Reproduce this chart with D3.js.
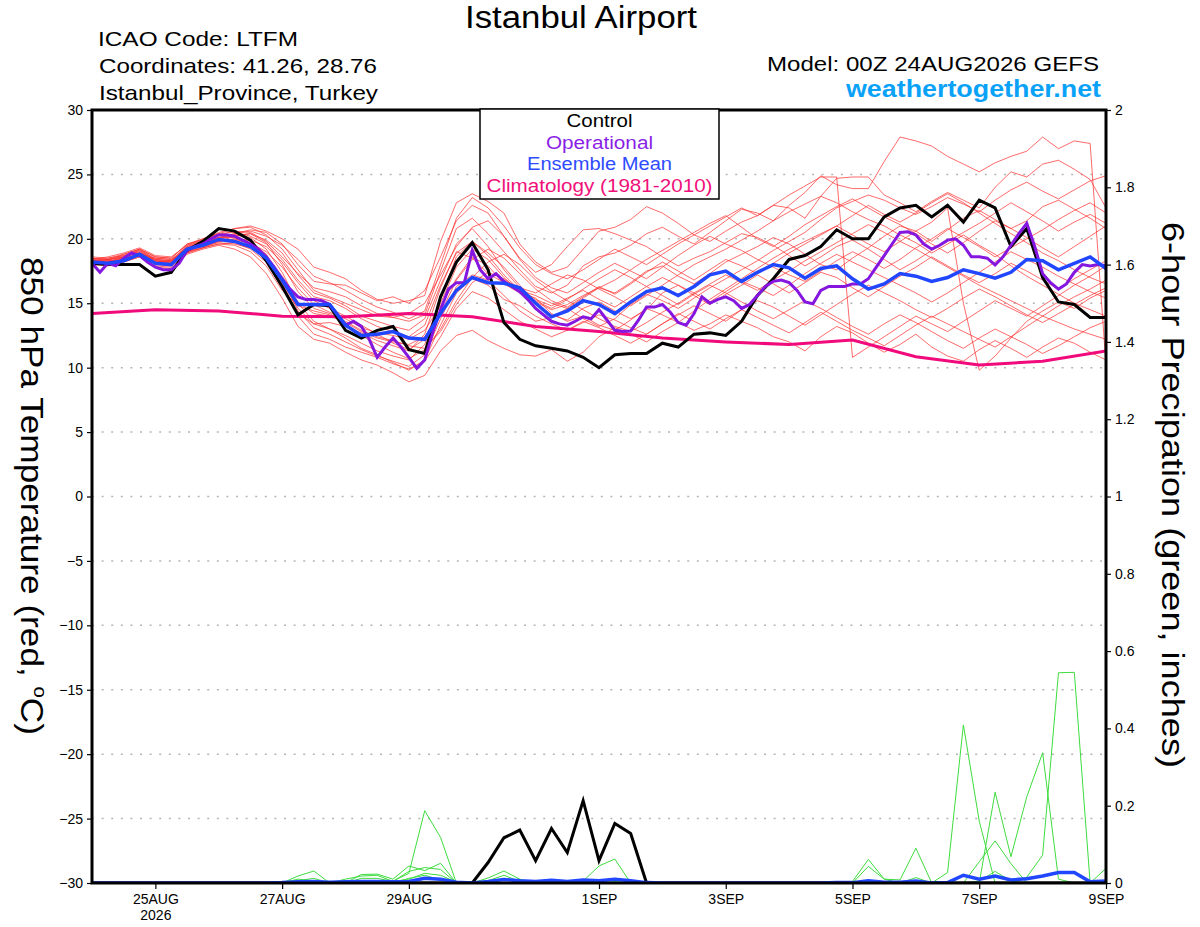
<!DOCTYPE html>
<html>
<head>
<meta charset="utf-8">
<script src="https://cdn.jsdelivr.net/npm/d3@7"></script>
<style>
  body { margin: 0; background: #fff; }
  svg { display: block; }
  text { font-family: "Liberation Sans", Arial, sans-serif; }
</style>
</head>
<body>
<div id="chart"></div>
<script>
// 6-hourly GEFS meteogram, 24AUG2026 00Z run, 384 h

// ---- data ----
const runStart = Date.UTC(2026, 7, 24, 0);
const runEnd = Date.UTC(2026, 8, 9, 0);
const stepHours = 6;      // ensemble, control, mean, precip
const opStepHours = 3;    // operational run
const climStepHours = 24; // climatology

const dayTicks = ["2026-08-25", "2026-08-27", "2026-08-29", "2026-09-01",
                  "2026-09-03", "2026-09-05", "2026-09-07", "2026-09-09"];
const monthNames = ["JAN","FEB","MAR","APR","MAY","JUN","JUL","AUG","SEP","OCT","NOV","DEC"];
const tempTicks = [-30,-25,-20,-15,-10,-5,0,5,10,15,20,25,30];
const precipTicks = [0,0.2,0.4,0.6,0.8,1,1.2,1.4,1.6,1.8,2];

// 850 hPa temperature, deg C
const control = [18.1,18.0,18.0,18.0,17.1,17.4,19.1,19.8, 20.8,20.6,19.9,18.3,16.3,14.1,14.9,14.8,
  12.9,12.3,12.9,13.2,11.4,11.1,15.5,18.2, 19.7,17.6,13.5,12.2,11.7,11.5,11.3,10.8,
  10.0,11.0,11.1,11.1,11.9,11.6,12.6,12.7, 12.5,13.6,15.6,16.9,18.4,18.7,19.4,20.7,
  20.0,20.0,21.7,22.4,22.6,21.7,22.6,21.3, 23.0,22.4,19.4,20.8,17.0,15.1,14.9,13.9, 13.9];

const ensMean = [18.2,18.1,18.3,18.8,18.1,18.0,19.2,19.5, 19.95,19.8,19.4,18.5,16.8,14.9,14.9,14.9,
  13.3,12.5,12.6,12.8,12.3,12.2,14.2,16.0, 17.0,16.6,16.55,16.2,15.0,13.95,14.4,15.2,
  14.9,14.2,15.1,15.9,16.2,15.6,16.3,17.2, 17.5,16.7,17.4,18.0,17.75,16.95,17.7,17.9,
  16.9,16.1,16.5,17.3,17.1,16.7,17.0,17.6, 17.3,16.95,17.4,18.4,18.3,17.6,18.1,18.6, 17.7];

const operational = [18.1,17.4,18.1,17.9,18.5,18.9,18.7,18.2, 17.8,17.6,17.6,18.1,19.1,19.4,19.6,20.0,
  20.3,20.3,20.2,19.9,19.6,19.2,18.6,17.8, 16.9,16.1,15.5,15.3,15.3,15.2,14.9,14.1,
  13.3,13.6,13.2,12.2,10.8,11.6,12.3,11.6, 10.8,9.95,10.6,12.7,14.5,16.1,16.6,16.6,
  19.1,17.6,16.9,17.3,16.7,16.3,15.9,15.3, 14.6,14.1,13.6,13.4,13.3,13.6,13.95,13.8,
  14.5,13.7,12.9,12.8,12.85,13.7,14.7,14.7, 14.9,14.3,13.5,13.3,14.2,15.5,15.0,15.3,
  15.5,15.2,14.6,14.9,15.6,16.3,16.7,16.8, 16.6,16.0,15.1,14.96,16.0,16.3,16.3,16.3,
  16.5,16.5,16.9,17.8,18.7,19.6,20.5,20.55, 20.3,19.6,19.2,19.5,19.9,20.0,19.5,18.6,
  18.6,18.5,17.97,18.6,19.5,20.4,21.2,19.4, 17.3,16.6,16.1,16.5,17.4,18.0,17.9,18.0, 17.9];

const climatology = [14.2,14.5,14.4,14.0,13.95,14.2,13.95,13.2,12.8,12.3,12.0,11.8,12.15,10.85,10.2,10.5,11.3];

const member01 = [18.4,18.5,18.7,19.1,18.5,18.4,19.4,19.9, 20.3,20.6,20.5,19.8,18.6,17.3,16.2,15.9,
  15.5,14.8,14.2,13.9,13.6,14.1,17.5,20.8, 21.6,20.4,19.0,17.6,16.3,15.8,16.4,17.9,
  18.6,18.9,19.5,20.4,20.9,20.2,19.6,20.5, 21.4,22.3,22.0,21.4,22.6,23.6,24.9,24.2,
  23.9,23.9,26.0,27.9,27.6,27.2,26.4,25.8, 25.2,25.9,26.4,26.8,27.9,27.0,27.6,27.4, 10.2];
const member02 = [18.2,18.4,18.6,19.2,18.6,18.5,19.6,20.0, 20.4,20.8,21.0,20.6,20.0,19.2,17.8,17.4,
  16.9,16.0,15.3,15.0,15.2,15.6,19.8,22.8, 23.5,22.9,22.0,19.6,18.2,17.4,17.8,19.2,
  20.6,20.9,21.5,22.5,22.0,21.2,20.3,19.8, 20.6,21.3,21.8,22.6,22.4,21.6,23.3,24.7,
  24.8,24.8,23.4,22.8,22.1,22.9,23.6,23.0, 22.4,24.0,25.2,24.8,25.8,26.1,25.4,24.6, 22.4];
const member03 = [18.0,18.1,18.2,18.6,17.8,17.7,18.8,19.2, 19.5,19.2,18.6,17.3,15.4,13.2,12.2,11.9,
  11.2,10.6,10.2,9.6,8.9,9.4,11.3,12.5, 12.9,12.1,11.5,11.0,10.9,11.4,10.5,11.2,
  12.4,13.1,12.6,12.0,12.8,13.5,12.9,13.4, 14.1,13.6,13.1,12.4,12.0,11.3,12.4,13.2,
  12.7,11.9,11.2,11.8,12.6,11.6,10.9,10.5, 11.4,12.1,11.5,10.8,11.6,12.3,11.9,11.2, 10.6];
const member04 = [18.5,18.3,18.8,19.2,18.4,18.3,19.3,19.7, 20.1,20.3,20.1,19.2,17.4,15.0,13.6,13.0,
  12.5,11.9,11.3,10.9,10.6,11.8,15.4,18.6, 19.8,18.9,17.8,16.4,15.1,14.5,14.9,15.6,
  16.2,15.8,16.6,17.5,17.9,17.1,16.5,17.3, 18.2,18.8,19.4,20.1,19.6,18.8,18.0,17.6,
  18.5,19.3,20.2,21.0,20.6,19.8,20.7,21.6, 22.2,21.5,20.8,21.4,22.5,23.0,22.3,21.6, 20.8];
const member05 = [18.1,18.0,18.4,18.7,18.2,18.1,19.0,19.5, 19.8,20.0,19.6,18.4,16.6,14.6,13.4,13.5,
  13.2,12.7,12.1,11.7,11.3,12.6,16.2,19.0, 18.5,17.3,16.6,15.9,15.0,14.1,13.7,14.6,
  15.1,14.4,13.8,14.5,15.8,16.4,15.6,14.9, 15.7,16.4,17.2,16.5,15.8,16.6,17.4,17.0,
  16.2,15.5,16.3,17.1,17.8,18.6,17.9,17.2, 16.6,17.3,18.1,17.5,16.8,16.1,16.9,17.6, 18.3];
const member06 = [18.3,18.4,18.5,19.0,18.3,18.2,19.1,19.6, 20.0,20.4,20.7,20.5,19.6,18.0,16.7,16.5,
  16.4,15.8,15.2,15.5,15.0,16.0,18.6,21.4, 22.6,22.0,20.2,18.5,17.4,18.0,19.4,20.7,
  20.8,20.4,19.9,19.4,18.6,17.9,18.5,19.0, 19.7,20.4,20.1,19.5,18.7,17.9,18.6,19.4,
  19.9,19.2,18.4,17.6,18.3,19.1,19.8,20.5, 21.2,22.0,22.8,22.1,21.4,20.6,21.3,21.9, 21.2];
const member07 = [18.2,18.1,18.3,18.9,18.0,17.9,19.2,19.4, 19.9,19.9,19.7,19.0,17.8,16.2,14.9,14.3,
  13.8,13.1,12.7,12.5,12.2,12.9,14.8,16.9, 18.6,17.9,16.5,15.8,15.4,14.2,13.6,14.0,
  13.3,12.9,13.7,14.6,14.1,13.5,14.4,15.3, 16.1,16.9,17.7,18.5,19.2,19.8,20.4,21.0,
  20.3,19.6,19.0,19.8,20.6,21.3,22.4,15.0, 9.8,10.9,12.3,13.6,14.4,15.1,14.6,15.4, 16.0];
const member08 = [18.4,18.2,18.6,19.1,18.3,18.2,19.5,19.8, 20.1,20.1,19.8,18.8,16.9,14.4,13.1,12.6,
  12.0,11.4,10.9,10.5,10.1,11.0,13.8,16.3, 17.2,16.8,15.6,14.4,13.6,13.9,14.6,13.8,
  13.2,13.8,14.9,15.7,15.2,14.6,15.4,16.2, 16.9,17.6,18.3,19.1,19.8,20.5,21.5,22.4,
  22.9,23.4,23.0,22.4,21.9,22.5,23.2,22.7, 22.1,23.0,23.8,24.4,23.7,23.1,23.8,24.5, 24.9];
const member09 = [18.0,18.3,18.4,18.8,18.5,18.4,19.1,19.5, 19.8,20.2,20.4,19.9,18.9,17.2,15.8,15.4,
  14.8,14.0,13.6,13.2,12.9,13.8,16.8,19.6, 20.8,19.4,17.6,16.2,15.8,16.5,17.2,16.8,
  16.1,15.5,14.8,15.6,16.4,17.2,18.0,18.6, 19.2,19.9,20.6,21.4,22.1,22.7,23.3,22.8,
  22.1,21.5,21.0,20.3,19.7,18.9,19.6,20.3, 19.5,18.8,17.9,17.1,16.4,15.7,15.0,14.5, 14.0];
const member10 = [18.3,18.2,18.5,18.8,18.1,18.0,18.9,19.3, 19.6,19.7,19.2,18.2,16.2,14.2,13.4,13.0,
  12.3,11.5,11.0,10.4,9.8,10.6,13.3,15.8, 16.9,16.4,15.3,14.8,14.0,13.4,12.9,13.5,
  14.1,13.7,13.1,12.6,13.4,14.1,14.8,14.2, 13.6,14.5,15.2,14.7,14.0,13.3,14.1,14.9,
  15.7,16.4,15.8,15.2,14.5,13.9,14.6,15.4, 16.1,15.5,14.8,14.1,13.5,14.2,14.9,15.6, 16.2];
const member11 = [18.6,18.5,18.8,19.2,18.6,18.5,19.6,19.9, 20.5,20.8,20.9,20.3,19.2,17.6,16.0,15.5,
  15.0,14.5,14.0,13.9,14.2,15.0,17.2,19.4, 20.9,21.4,20.2,18.4,17.0,16.2,15.8,16.6,
  17.4,18.1,17.5,16.9,17.8,18.7,19.5,20.2, 19.6,19.1,18.4,17.8,17.2,16.7,17.5,18.3,
  19.0,18.4,17.7,18.4,19.3,20.0,20.8,20.1, 19.4,18.6,19.3,20.0,20.7,21.5,22.2,22.8, 22.0];
const member12 = [18.2,18.3,18.4,18.7,18.2,18.3,19.3,19.7, 20.0,19.8,19.5,18.7,17.1,15.1,14.2,14.0,
  13.6,12.9,12.4,12.1,11.7,11.5,12.8,14.9, 16.6,17.4,16.9,16.1,15.3,14.8,15.4,16.0,
  15.3,14.7,15.5,16.3,17.0,16.4,15.8,15.1, 15.9,16.7,16.2,15.6,16.4,17.3,18.1,18.8,
  18.2,17.6,17.0,16.4,15.8,15.1,15.8,16.6, 17.4,18.2,19.0,18.4,17.8,17.1,16.5,15.9, 15.4];
const member13 = [18.1,18.0,18.3,18.8,18.2,18.0,19.0,19.3, 19.8,20.0,19.9,19.4,18.2,16.6,15.2,14.6,
  14.0,13.3,12.6,11.9,11.4,12.2,15.0,17.8, 19.2,18.4,17.0,15.9,15.2,14.6,15.3,16.1,
  16.9,17.6,17.0,16.3,15.6,14.9,15.7,16.4, 15.8,15.1,14.4,13.8,14.5,15.2,14.6,13.9,
  13.2,12.6,13.4,14.1,13.5,12.8,12.1,11.5, 12.3,13.0,12.4,11.8,11.1,11.7,12.4,13.1, 13.6];
const member14 = [18.4,18.6,18.9,19.3,18.7,18.6,19.5,20.0, 20.4,20.5,20.2,19.6,18.4,16.8,15.5,15.2,
  14.6,13.8,13.2,12.8,12.4,13.3,16.4,18.9, 19.8,18.7,17.2,16.0,15.6,15.0,14.6,15.4,
  16.2,16.8,17.6,18.4,19.1,19.8,20.5,21.2, 21.8,20.9,20.0,19.4,20.2,21.1,21.8,22.5,
  23.1,22.4,21.7,21.1,20.4,19.6,18.9,19.7, 20.6,21.4,20.8,20.1,19.3,18.6,19.4,20.2, 21.0];
const member15 = [18.2,18.1,18.4,18.9,18.4,18.2,19.2,19.6, 19.9,20.3,20.4,19.7,18.0,15.9,14.6,14.2,
  13.5,12.8,12.3,12.0,11.8,12.4,14.2,16.8, 18.4,19.2,18.5,17.3,16.1,15.2,14.7,15.5,
  16.3,15.7,16.5,17.4,18.2,17.5,16.8,17.6, 18.4,17.9,17.3,18.1,18.9,19.6,20.3,21.0,
  21.8,22.6,21.9,21.3,22.0,22.8,23.5,22.8, 22.0,21.2,20.4,19.7,18.9,18.3,17.6,17.0, 16.5];
const member16 = [18.3,18.4,18.6,18.9,18.3,18.1,19.0,19.4, 19.7,19.6,19.3,18.5,16.6,14.0,12.6,12.2,
  11.6,11.2,10.8,10.3,9.9,10.5,12.4,14.6, 15.9,15.4,14.5,13.6,13.0,12.4,12.9,13.6,
  13.1,12.5,11.9,12.6,13.4,14.2,13.6,13.0, 13.8,14.5,13.9,13.3,12.7,13.5,14.3,13.6,
  12.9,12.3,11.7,12.5,13.3,14.0,13.4,12.8, 12.2,11.6,12.4,13.2,14.0,14.8,15.5,16.1, 16.8];
const member17 = [18.5,18.4,18.7,19.0,18.4,18.3,19.4,19.7, 20.1,20.4,20.6,20.2,19.5,18.4,17.1,16.6,
  16.0,15.3,14.7,14.3,13.8,14.4,18.0,21.6, 23.2,22.4,21.0,19.3,18.0,17.3,16.9,17.6,
  18.4,19.2,18.6,18.0,18.8,19.6,20.3,21.0, 21.7,22.4,21.8,22.6,23.4,24.1,24.8,24.8,
  10.8,11.6,12.4,13.2,14.0,13.4,12.8,13.6, 14.4,15.2,14.6,14.0,14.8,15.6,16.4,17.1, 17.9];
const member18 = [18.0,17.9,18.2,18.6,17.9,17.8,18.9,19.3, 19.6,19.5,19.0,17.9,16.0,14.8,14.4,14.1,
  13.4,12.5,11.8,11.2,10.7,11.4,13.0,15.2, 17.0,18.2,18.8,18.0,16.8,15.9,15.2,14.5,
  13.8,13.2,12.8,13.5,14.3,15.0,15.8,16.5, 17.2,16.6,16.0,16.8,17.5,18.3,19.0,19.7,
  20.4,21.1,20.5,19.8,19.2,18.5,17.8,17.1, 16.4,15.8,15.2,14.6,14.0,13.5,13.0,12.6, 12.2];

// 6-hour precipitation, inches
const precipControl = [0,0,0,0,0,0,0,0,0,0,0,0,0,0,0,0,
  0,0,0,0,0,0,0,0,0,0.053,0.117,0.137,0.058,0.141,0.079,0.213,
  0.058,0.154,0.128,0,0,0,0,0,0,0,0,0,0,0,0,0,
  0,0,0,0,0,0,0,0,0,0,0,0,0,0,0,0, 0];
const precipMean = [0,0,0,0,0,0,0,0,0,0,0,0,0.001,0.003,0.004,0.002,
  0.003,0.004,0.004,0.003,0.004,0.012,0.010,0.002,0,0.004,0.009,0.006,0.004,0.007,0.004,0.008,
  0.006,0.010,0.006,0.001,0,0,0,0,0,0,0,0,0,0,0,0.001,
  0.001,0.006,0.002,0.002,0.005,0,0.001,0.020,0.010,0.018,0.008,0.011,0.018,0.027,0.027,0.003, 0.005];
const precip01 = [0,0,0,0,0,0,0,0,0,0,0,0,0,0.010,0.005,0,
  0,0,0,0.005,0.025,0.187,0.118,0,0,0,0,0,0,0,0,0.005,
  0.044,0.062,0,0,0,0,0,0,0,0,0,0,0,0,0,0,
  0,0,0,0,0,0,0,0,0,0,0,0,0,0,0,0, 0];
const precip02 = [0,0,0,0,0,0,0,0,0,0,0,0,0,0.018,0.031,0,
  0,0.022,0.023,0.010,0.044,0.032,0.051,0,0,0.013,0.031,0.010,0,0,0,0,
  0,0,0,0,0,0,0,0,0,0,0,0,0,0,0,0,
  0.004,0.061,0.010,0.008,0.090,0,0,0,0,0,0,0,0,0,0,0, 0];
const precip03 = [0,0,0,0,0,0,0,0,0,0,0,0,0,0,0,0,
  0,0,0,0,0,0,0,0,0,0,0,0,0,0,0,0,
  0,0,0,0,0,0,0,0,0,0,0,0,0,0,0,0,
  0,0,0,0,0,0,0.027,0.409,0.160,0,0,0,0,0,0,0, 0];
const precip04 = [0,0,0,0,0,0,0,0,0,0,0,0,0,0,0,0,
  0,0,0,0,0,0,0,0,0,0,0,0,0,0,0,0,
  0,0,0,0,0,0,0,0,0,0,0,0,0,0,0,0,
  0,0,0,0,0,0,0,0,0,0.235,0.068,0.223,0.337,0.010,0,0, 0];
const precip05 = [0,0,0,0,0,0,0,0,0,0,0,0,0,0,0,0,
  0,0,0,0,0,0,0,0,0,0,0,0,0,0,0,0,
  0,0,0,0,0,0,0,0,0,0,0,0,0,0,0,0,
  0,0,0,0,0,0,0,0,0,0,0,0.015,0.072,0.544,0.545,0, 0.038];
const precip06 = [0,0,0,0,0,0,0,0,0,0,0,0,0,0,0,0,
  0,0,0,0,0.012,0.020,0.008,0,0,0,0,0,0,0,0,0,
  0,0,0,0,0,0,0,0,0,0,0,0,0,0,0,0,
  0,0,0,0,0,0,0,0,0.055,0.109,0.050,0,0,0,0,0, 0];
const precip07 = [0,0,0,0,0,0,0,0,0,0,0,0,0,0,0,0,
  0,0,0,0,0,0,0,0,0,0,0,0,0,0,0,0,
  0,0,0,0,0,0,0,0,0,0,0,0,0,0,0,0,
  0,0.043,0.010,0,0.014,0,0,0,0.005,0.030,0.005,0,0,0,0,0, 0];
const precip08 = [0,0,0,0,0,0,0,0,0,0,0,0,0,0,0,0,
  0.010,0.018,0.020,0.004,0.030,0.040,0.035,0,0,0.006,0.020,0.004,0,0,0,0,
  0,0,0,0,0,0,0,0,0,0,0,0,0,0,0,0,
  0,0,0,0,0,0,0,0,0,0,0,0,0,0,0,0, 0];
const precip09 = [0,0,0,0,0,0,0,0,0,0,0,0,0.003,0.006,0.012,0,
  0,0.012,0.012,0.004,0.010,0.025,0.020,0.002,0,0,0,0,0,0,0,0,
  0,0.004,0,0,0,0,0,0,0,0,0,0,0,0,0,0,
  0,0,0,0,0,0,0,0,0,0,0,0,0,0,0,0, 0];

const members = [member01, member02, member03, member04, member05, member06, member07, member08, member09,
                 member10, member11, member12, member13, member14, member15, member16, member17, member18];
const precipMembers = [precip01, precip02, precip03, precip04, precip05, precip06, precip07, precip08, precip09];

// ---- layout ----
const width = 1200;
const height = 927;
const plot = {left: 92, right: 1106, top: 110, bottom: 883};

const svg = d3.select("#chart")
  .append("svg")
  .attr("width", width)
  .attr("height", height)
  .attr("viewBox", [0, 0, width, height]);

const x = d3.scaleUtc()
  .domain([new Date(runStart), new Date(runEnd)])
  .range([plot.left, plot.right]);

const yTemp = d3.scaleLinear()
  .domain([-30, 30])
  .range([plot.bottom, plot.top]);

const yPrecip = d3.scaleLinear()
  .domain([0, 2])
  .range([plot.bottom, plot.top]);

const timeAt = (i, step) => new Date(runStart + i * step * 3600e3);

// clip
svg.append("clipPath").attr("id", "plotclip")
  .append("rect")
  .attr("x", plot.left).attr("y", plot.top)
  .attr("width", plot.right - plot.left).attr("height", plot.bottom - plot.top);

// dotted grid lines on the temperature axis
svg.append("g")
  .selectAll("line")
  .data(tempTicks.filter(t => t > -30 && t < 30))
  .join("line")
    .attr("x1", plot.left)
    .attr("x2", plot.right)
    .attr("y1", d => yTemp(d))
    .attr("y2", d => yTemp(d))
    .attr("stroke", "#b4b4b4")
    .attr("stroke-width", 1.5)
    .attr("stroke-dasharray", "2,7.6");

const lines = svg.append("g").attr("clip-path", "url(#plotclip)");

const tempLine = step => d3.line()
  .x((d, i) => x(timeAt(i, step)))
  .y(d => yTemp(d));

const precipLine = d3.line()
  .x((d, i) => x(timeAt(i, stepHours)))
  .y(d => yPrecip(d));

// ensemble members
lines.append("g")
  .selectAll("path")
  .data(members)
  .join("path")
    .attr("d", tempLine(stepHours))
    .attr("fill", "none")
    .attr("stroke", "#ff3030")
    .attr("stroke-opacity", 0.8)
    .attr("stroke-width", 0.9);

// precipitation members
lines.append("g")
  .selectAll("path")
  .data(precipMembers)
  .join("path")
    .attr("d", precipLine)
    .attr("fill", "none")
    .attr("stroke", "#3edc3e")
    .attr("stroke-width", 1);

lines.append("path")
  .datum(climatology)
  .attr("d", tempLine(climStepHours))
  .attr("fill", "none")
  .attr("stroke", "#f00a7c")
  .attr("stroke-width", 3);

lines.append("path")
  .datum(precipControl)
  .attr("d", precipLine)
  .attr("fill", "none")
  .attr("stroke", "#000")
  .attr("stroke-width", 3);

lines.append("path")
  .datum(control)
  .attr("d", tempLine(stepHours))
  .attr("fill", "none")
  .attr("stroke", "#000")
  .attr("stroke-width", 3);

lines.append("path")
  .datum(operational)
  .attr("d", tempLine(opStepHours))
  .attr("fill", "none")
  .attr("stroke", "#8416e0")
  .attr("stroke-width", 3);

lines.append("path")
  .datum(ensMean)
  .attr("d", tempLine(stepHours))
  .attr("fill", "none")
  .attr("stroke", "#2146ff")
  .attr("stroke-width", 3.5);

lines.append("path")
  .datum(precipMean)
  .attr("d", precipLine)
  .attr("fill", "none")
  .attr("stroke", "#2146ff")
  .attr("stroke-width", 3.5);

// ---- axes ----
const leftAxis = svg.append("g")
  .attr("transform", `translate(${plot.left},0)`)
  .call(d3.axisLeft(yTemp).tickValues(tempTicks).tickSize(5).tickPadding(4));

const rightAxis = svg.append("g")
  .attr("transform", `translate(${plot.right},0)`)
  .call(d3.axisRight(yPrecip).tickValues(precipTicks).tickSize(5).tickPadding(4)
        .tickFormat(d => String(+d.toFixed(1))));

const bottomAxis = svg.append("g")
  .attr("transform", `translate(0,${plot.bottom})`)
  .call(d3.axisBottom(x)
        .tickValues(dayTicks.map(s => new Date(s + "T00:00:00Z")))
        .tickSize(6).tickPadding(5)
        .tickFormat(d => d.getUTCDate() + monthNames[d.getUTCMonth()]));

bottomAxis.select(".tick text")
  .append("tspan")
  .attr("x", 0)
  .attr("dy", "1.15em")
  .text("2026");

[leftAxis, rightAxis, bottomAxis].forEach(g => {
  g.select(".domain").remove();
  g.selectAll(".tick line").attr("stroke", "#000").attr("stroke-width", 1.2);
  g.selectAll(".tick text").attr("font-size", 14).attr("fill", "#000")
    .attr("font-family", "Liberation Sans, Arial, sans-serif");
});

// plot frame
svg.append("rect")
  .attr("x", plot.left).attr("y", plot.top)
  .attr("width", plot.right - plot.left).attr("height", plot.bottom - plot.top)
  .attr("fill", "none")
  .attr("stroke", "#000")
  .attr("stroke-width", 3);

// ---- legend ----
const legendItems = [
  {label: "Control", color: "#000000", len: 66},
  {label: "Operational", color: "#8a1ee6", len: 107},
  {label: "Ensemble Mean", color: "#2e4bff", len: 145},
  {label: "Climatology (1981-2010)", color: "#f0107a", len: 226}
];

const legend = svg.append("g");
legend.append("rect")
  .attr("x", 480).attr("y", 109)
  .attr("width", 239).attr("height", 90)
  .attr("fill", "#fff")
  .attr("stroke", "#000")
  .attr("stroke-width", 1.5);

legend.selectAll("text")
  .data(legendItems)
  .join("text")
    .attr("x", 599.5)
    .attr("y", (d, i) => 127 + i * 21.6)
    .attr("text-anchor", "middle")
    .attr("font-size", 17.5)
    .attr("fill", d => d.color)
    .attr("textLength", d => d.len)
    .attr("lengthAdjust", "spacingAndGlyphs")
    .text(d => d.label);

// ---- titles ----
const addText = (str, px, py, size, len, opts = {}) => {
  const t = svg.append("text")
    .attr("x", px).attr("y", py)
    .attr("font-size", size)
    .attr("fill", opts.color || "#000")
    .attr("font-weight", opts.weight || "normal")
    .attr("textLength", len)
    .attr("lengthAdjust", "spacingAndGlyphs")
    .text(str);
  return t;
};

addText("Istanbul Airport", 465, 28, 31, 232);
addText("ICAO Code: LTFM", 98, 46, 21, 200);
addText("Coordinates: 41.26, 28.76", 99, 73, 21, 278);
addText("Istanbul_Province, Turkey", 99, 100, 21, 279);
addText("Model: 00Z 24AUG2026 GEFS", 767, 71, 21, 332);
addText("weathertogether.net", 846, 97, 23, 255, {color: "#0aa2f7", weight: "bold"});

// both axis titles read top to bottom
const leftTitle = svg.append("text")
  .attr("transform", "translate(21,496) rotate(90)")
  .attr("text-anchor", "middle")
  .attr("font-size", 31)
  .attr("textLength", 478)
  .attr("lengthAdjust", "spacingAndGlyphs");
leftTitle.append("tspan").text("850 hPa Temperature (red, ");
leftTitle.append("tspan").attr("font-size", 18).attr("dy", -13).text("o");
leftTitle.append("tspan").attr("dy", 13).text("C)");

svg.append("text")
  .attr("transform", "translate(1162,495) rotate(90)")
  .attr("text-anchor", "middle")
  .attr("font-size", 32)
  .attr("textLength", 546)
  .attr("lengthAdjust", "spacingAndGlyphs")
  .text("6-hour Precipation (green, inches)");
</script>
</body>
</html>
